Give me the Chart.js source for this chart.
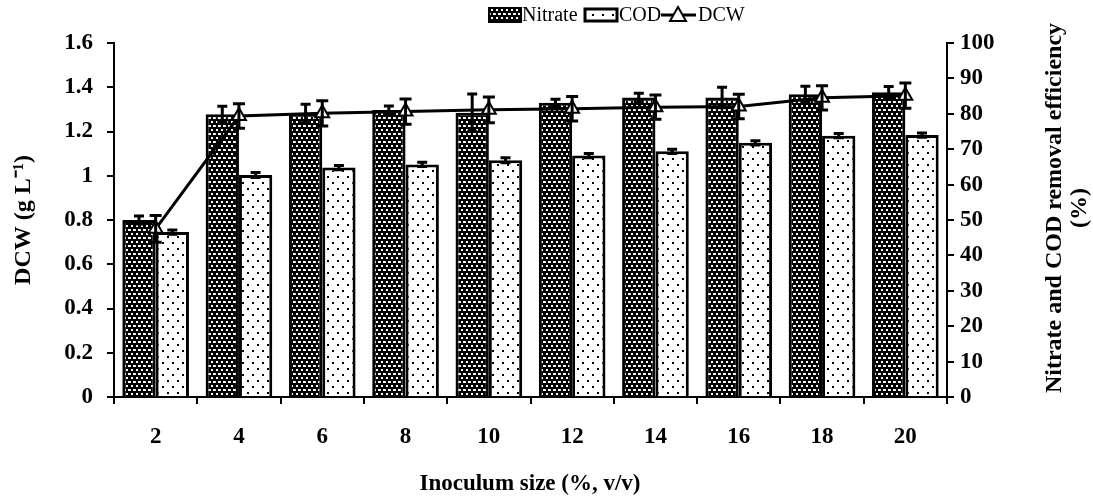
<!DOCTYPE html>
<html>
<head>
<meta charset="utf-8">
<script src="https://cdn.jsdelivr.net/npm/chart.js@4.4.1/dist/chart.umd.min.js"></script>
<style>
html,body{margin:0;padding:0;background:#fff;}
#wrap{width:1093px;height:497px;position:relative;}
</style>
</head>
<body>
<div id="wrap"><canvas id="c" width="1093" height="497"></canvas></div>
<script>
// ---- data ----
const categories = ['2','4','6','8','10','12','14','16','18','20'];
const nitrate    = [50.0, 79.9, 80.1, 81.1, 80.3, 83.1, 84.6, 84.6, 85.5, 86.1];
const nitrateErr = [1.1, 2.2, 2.6, 1.1, 5.3, 1.0, 1.2, 2.9, 2.3, 1.6];
const cod        = [46.6, 62.7, 64.8, 65.7, 66.9, 68.2, 69.4, 71.8, 73.8, 74.0];
const codErr     = [0.6, 0.7, 0.6, 0.6, 0.7, 0.6, 0.6, 0.6, 0.6, 0.6];
const dcw        = [0.76, 1.27, 1.282, 1.29, 1.298, 1.303, 1.31, 1.313, 1.352, 1.362];
const dcwErr     = [0.06, 0.055, 0.057, 0.057, 0.058, 0.055, 0.055, 0.055, 0.055, 0.057];
const leftTicks  = [0, 0.2, 0.4, 0.6, 0.8, 1, 1.2, 1.4, 1.6];
const rightTicks = [0,10,20,30,40,50,60,70,80,90,100];

const FONT = "'Liberation Serif','Times New Roman',serif";

const tmp = document.createElement('canvas').getContext('2d');
const nitratePat = (function(){
  const c = document.createElement('canvas'); c.width=5; c.height=8;
  const x = c.getContext('2d');
  x.fillStyle='#000'; x.fillRect(0,0,5,8);
  x.fillStyle='#fff'; x.fillRect(1,1,2,2); x.fillRect(3,5,2,2);
  x.fillStyle='#ddd'; x.fillRect(0,5,1,2);
  return tmp.createPattern(c,'repeat');
})();
const codPat = (function(){
  const c = document.createElement('canvas'); c.width=10; c.height=12;
  const x = c.getContext('2d');
  x.fillStyle='#fff'; x.fillRect(0,0,10,12);
  x.fillStyle='#000'; x.fillRect(2,2,2,2); x.fillRect(7,8,2,2);
  return tmp.createPattern(c,'repeat');
})();

// error bars plugin
const errorBars = {
  id:'errorBars',
  afterDatasetsDraw(chart){
    const ctx = chart.ctx;
    const sets = [[0,nitrateErr,'y1',10],[1,codErr,'y1',10],[2,dcwErr,'y',12]];
    ctx.save();
    ctx.strokeStyle='#000'; ctx.lineWidth=3; ctx.lineCap='butt';
    sets.forEach(([di,errs,ax,cw])=>{
      const meta = chart.getDatasetMeta(di);
      const sc = chart.scales[ax];
      const vals = chart.data.datasets[di].data;
      meta.data.forEach((el,i)=>{
        const x = el.x;
        const yT = sc.getPixelForValue(vals[i]+errs[i]);
        const yB = sc.getPixelForValue(vals[i]-errs[i]);
        ctx.beginPath();
        ctx.moveTo(x,yT); ctx.lineTo(x,yB);
        ctx.moveTo(x-cw/2,yT); ctx.lineTo(x+cw/2,yT);
        ctx.moveTo(x-cw/2,yB); ctx.lineTo(x+cw/2,yB);
        ctx.stroke();
      });
    });
    ctx.restore();
  }
};

// titles + legend plugin
const decor = {
  id:'decor',
  afterDraw(chart){
    const ctx = chart.ctx;
    ctx.save();
    ctx.fillStyle='#000';
    ctx.font = "bold 23px " + FONT;
    ctx.textAlign='center'; ctx.textBaseline='middle';
    ctx.fillText('Inoculum size (%, v/v)', 530, 484);
    ctx.font = "bold 24px " + FONT;
    ctx.save();
    ctx.translate(24, 220); ctx.rotate(-Math.PI/2);
    ctx.fillText('DCW (g L\u207B\u00B9)', 0, 0);
    ctx.restore();
    ctx.save();
    ctx.translate(1055, 208); ctx.rotate(-Math.PI/2);
    ctx.fillText('Nitrate and COD removal efficiency', 0, 0);
    ctx.fillText('(%)', 0, 25);
    ctx.restore();
    // legend
    const ly = 15;
    ctx.font = "20px " + FONT;
    ctx.textAlign='left';
    ctx.lineWidth=2; ctx.strokeStyle='#000';
    ctx.fillStyle = nitratePat; ctx.fillRect(489, ly-7, 32, 14); ctx.strokeRect(489, ly-7, 32, 14);
    ctx.fillStyle='#000'; ctx.fillText('Nitrate', 522, ly+1);
    ctx.fillStyle = codPat; ctx.fillRect(585, ly-7, 32, 14);
    ctx.lineWidth=3; ctx.strokeRect(585, ly-6, 32, 12);
    ctx.fillStyle='#000'; ctx.fillText('COD', 619, ly+1);
    ctx.lineWidth=3;
    ctx.beginPath(); ctx.moveTo(661, ly); ctx.lineTo(696, ly); ctx.stroke();
    ctx.beginPath(); ctx.moveTo(678, ly-8); ctx.lineTo(686, ly+6); ctx.lineTo(670, ly+6); ctx.closePath();
    ctx.fillStyle='#fff'; ctx.fill(); ctx.lineWidth=2; ctx.stroke();
    ctx.fillStyle='#000'; ctx.fillText('DCW', 698, ly+1);
    ctx.restore();
  }
};

new Chart(document.getElementById('c'), {
  type:'bar',
  data:{
    labels: categories,
    datasets:[
      {label:'Nitrate', data:nitrate, yAxisID:'y1', backgroundColor:nitratePat, borderColor:'#000', borderWidth:3, borderSkipped:'bottom', order:2, categoryPercentage:0.8, barPercentage:1.0},
      {label:'COD', data:cod, yAxisID:'y1', backgroundColor:codPat, borderColor:'#000', borderWidth:3, borderSkipped:'bottom', order:2, categoryPercentage:0.8, barPercentage:1.0},
      {label:'DCW', type:'line', data:dcw, yAxisID:'y', borderColor:'#000', borderWidth:3, pointStyle:'triangle', pointRadius:8, pointBackgroundColor:'#fff', pointBorderColor:'#000', pointBorderWidth:2, tension:0, order:0}
    ]
  },
  options:{
    responsive:false, animation:false, devicePixelRatio:1,
    layout:{padding:{top:43,left:0,right:0,bottom:0}},
    plugins:{legend:{display:false}, tooltip:{enabled:false}},
    scales:{
      x:{
        offset:true,
        grid:{display:true, offset:true, drawOnChartArea:false, drawTicks:true, tickLength:7, color:'#000', lineWidth:2},
        border:{display:true, color:'#000', width:2},
        ticks:{color:'#000', font:{family:FONT, size:23, weight:'bold'}, padding:19, maxRotation:0},
        afterFit(s){ s.height = 100; }
      },
      y:{
        position:'left', min:0, max:1.6,
        afterBuildTicks(s){ s.ticks = leftTicks.map(v=>({value:v})); },
        grid:{display:true, drawOnChartArea:false, drawTicks:true, tickLength:7, color:'#000', lineWidth:2},
        border:{display:true, color:'#000', width:2},
        ticks:{color:'#000', font:{family:FONT, size:23, weight:'bold'}, padding:14, callback:(v)=>String(v)},
        afterFit(s){ s.width = 114; }
      },
      y1:{
        position:'right', min:0, max:100,
        afterBuildTicks(s){ s.ticks = rightTicks.map(v=>({value:v})); },
        grid:{display:true, drawOnChartArea:false, drawTicks:true, tickLength:7, color:'#000', lineWidth:2},
        border:{display:true, color:'#000', width:2},
        ticks:{color:'#000', font:{family:FONT, size:23, weight:'bold'}, padding:6},
        afterFit(s){ s.width = 146; }
      }
    }
  },
  plugins:[errorBars, decor]
});
</script>
</body>
</html>
